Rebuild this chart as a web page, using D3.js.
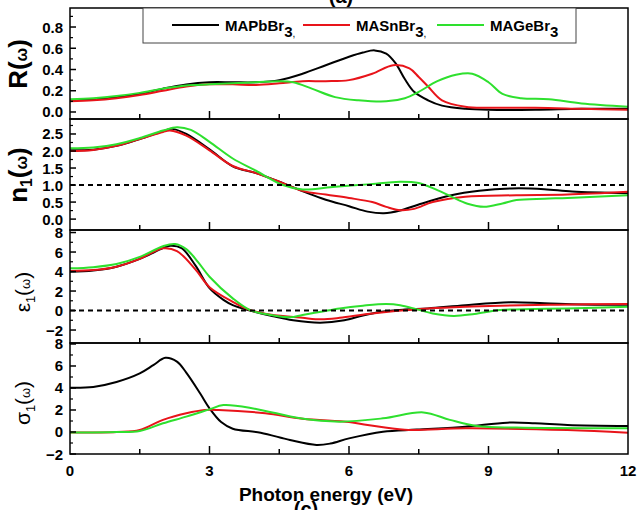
<!DOCTYPE html>
<html>
<head>
<meta charset="utf-8">
<script src="https://cdn.jsdelivr.net/npm/d3@7"></script>
<style>
  body { margin: 0; background: #fff; }
  text { font-family: Arial, "Liberation Sans", sans-serif; }
</style>
</head>
<body>
<svg id="chart" width="638" height="510"></svg>
<script>
// ---- data: [photon energy (eV), value] ----
const seriesNames = ["MAPbBr", "MASnBr", "MAGeBr"];
const seriesColors = ["#000000", "#e8141a", "#2ee02e"];

const rPb = [[0,0.11],[0.5,0.12],[1,0.14],[1.5,0.17],[2,0.22],[2.5,0.26],[3,0.28],[3.5,0.28],[4,0.28],[4.5,0.30],[5,0.36],[5.5,0.44],[6,0.52],[6.3,0.56],[6.55,0.58],[6.8,0.55],[7.0,0.46],[7.2,0.31],[7.4,0.19],[7.7,0.11],[8.0,0.06],[8.5,0.03],[9,0.02],[10,0.02],[11,0.03],[12,0.03]];
const rSn = [[0,0.10],[0.5,0.11],[1,0.13],[1.5,0.16],[2,0.20],[2.5,0.24],[3,0.26],[3.5,0.26],[4,0.255],[4.5,0.27],[5,0.29],[5.5,0.29],[6,0.30],[6.5,0.36],[6.95,0.44],[7.3,0.41],[7.5,0.33],[7.7,0.24],[8.0,0.11],[8.5,0.05],[9,0.04],[10,0.04],[11,0.03],[12,0.02]];
const rGe = [[0,0.12],[0.5,0.13],[1,0.15],[1.5,0.18],[2,0.22],[2.5,0.25],[3,0.26],[3.5,0.27],[4,0.28],[4.5,0.29],[4.8,0.28],[5.2,0.22],[5.7,0.14],[6.2,0.11],[6.8,0.10],[7.2,0.13],[7.5,0.19],[7.9,0.29],[8.3,0.35],[8.65,0.36],[9.0,0.28],[9.3,0.17],[9.7,0.13],[10.3,0.12],[11,0.08],[12,0.05]];

const nPb = [[0,2.02],[0.5,2.04],[1,2.15],[1.5,2.35],[2,2.58],[2.2,2.65],[2.5,2.5],[3,2.05],[3.5,1.55],[4,1.35],[4.5,1.1],[5,0.82],[5.5,0.57],[6,0.38],[6.4,0.22],[6.75,0.17],[7.1,0.25],[7.5,0.43],[8.2,0.70],[8.8,0.83],[9.5,0.90],[10.2,0.88],[10.8,0.81],[12,0.76]];
const nSn = [[0,2.0],[0.5,2.03],[1,2.15],[1.5,2.35],[2,2.56],[2.15,2.60],[2.5,2.45],[3,2.02],[3.5,1.56],[4,1.35],[4.5,1.1],[5,0.83],[5.5,0.72],[6,0.62],[6.5,0.5],[6.8,0.36],[7.1,0.26],[7.4,0.30],[7.8,0.50],[8.5,0.66],[9.6,0.70],[10.7,0.72],[12,0.80]];
const nGe = [[0,2.08],[0.5,2.1],[1,2.2],[1.5,2.38],[2,2.6],[2.3,2.70],[2.6,2.62],[3,2.27],[3.5,1.78],[4,1.42],[4.58,1.0],[5,0.87],[5.7,0.95],[6.4,1.02],[7.1,1.1],[7.5,1.06],[7.9,0.85],[8.2,0.66],[8.55,0.45],[8.9,0.36],[9.3,0.46],[9.6,0.56],[10.2,0.60],[10.7,0.62],[12,0.70]];

const ePb = [[0,3.98],[0.5,4.1],[1,4.5],[1.5,5.3],[2,6.4],[2.15,6.65],[2.4,6.4],[2.7,4.6],[3,2.3],[3.3,1.1],[3.5,0.56],[3.87,0.0],[4.3,-0.5],[4.8,-1.0],[5.38,-1.25],[5.9,-1.0],[6.3,-0.5],[6.7,-0.12],[7.2,0.1],[7.7,0.22],[8.5,0.55],[9.46,0.84],[10.2,0.75],[11,0.63],[12,0.6]];
const eSn = [[0,4.05],[0.5,4.15],[1,4.5],[1.5,5.3],[2,6.38],[2.3,6.1],[2.7,4.2],[3,2.4],[3.5,0.9],[3.87,0.05],[4.3,-0.4],[5,-0.75],[5.4,-0.9],[5.8,-0.75],[6.4,-0.36],[7,-0.05],[7.7,0.22],[8.5,0.4],[9.25,0.5],[10.5,0.6],[12,0.67]];
const eGe = [[0,4.33],[0.5,4.45],[1,4.77],[1.5,5.5],[2,6.6],[2.26,6.82],[2.5,6.3],[2.75,5.0],[3,3.47],[3.5,1.25],[3.87,0.05],[4.3,-0.45],[4.73,-0.7],[5.0,-0.45],[5.4,-0.12],[5.8,0.22],[6.3,0.5],[6.8,0.67],[7.1,0.55],[7.46,0.12],[7.8,-0.3],[8.25,-0.56],[8.7,-0.35],[9.25,0.05],[10,0.15],[10.7,0.22],[12,0.39]];

const sPb = [[0,4.03],[0.5,4.1],[1,4.55],[1.5,5.33],[1.8,6.1],[2.05,6.75],[2.3,6.4],[2.5,5.4],[2.8,3.5],[3,2.15],[3.25,0.9],[3.5,0.3],[4.1,-0.06],[4.73,-0.73],[5.3,-1.18],[5.6,-1.05],[6.0,-0.58],[6.73,0.03],[7.46,0.22],[8.5,0.48],[9.4,0.85],[10.0,0.8],[10.7,0.64],[12,0.55]];
const sSn = [[0,-0.05],[1,0.0],[1.5,0.18],[2,1.1],[2.5,1.7],[2.9,2.0],[3.2,2.0],[4.2,1.7],[5.0,1.2],[6.0,0.9],[6.4,0.64],[7.2,0.2],[8.5,0.33],[10.7,0.18],[12,-0.06]];
const sGe = [[0,-0.05],[1,0.0],[1.5,0.1],[2,0.79],[2.5,1.4],[3,2.06],[3.3,2.45],[4,2.1],[4.95,1.24],[5.8,0.94],[6.73,1.24],[7.6,1.78],[8.17,1.1],[8.75,0.55],[9.6,0.4],[12,0.33]];

const xTicks = [0, 3, 6, 9, 12];
const xMinor = [1.5, 4.5, 7.5, 10.5];
const rTicks = [0.0, 0.2, 0.4, 0.6, 0.8];
const nTicks = [0.0, 0.5, 1.0, 1.5, 2.0, 2.5];
const eTicks = [-2, 0, 2, 4, 6, 8];
const sTicks = [-2, 0, 2, 4, 6, 8];

const panels = [
  { series: [rPb, rSn, rGe], domain: [-0.066, 0.979], ticks: rTicks, minor: 0.1, fmt: d3.format(".1f"), top: 8, bottom: 119, ref: null },
  { series: [nPb, nSn, nGe], domain: [-0.32, 2.94], ticks: nTicks, minor: 0.25, fmt: d3.format(".1f"), top: 119, bottom: 230, ref: 1 },
  { series: [ePb, eSn, eGe], domain: [-3.33, 8.26], ticks: eTicks, minor: 1, fmt: d3.format("d"), top: 230, bottom: 343, ref: 0 },
  { series: [sPb, sSn, sGe], domain: [-2.0, 8.09], ticks: sTicks, minor: 1, fmt: d3.format("d"), top: 343, bottom: 454, ref: null }
];

const left = 70, right = 628;
const svg = d3.select("#chart");
const x = d3.scaleLinear().domain([0, 12]).range([left, right]);

panels.forEach((p, i) => {
  const y = d3.scaleLinear().domain(p.domain).range([p.bottom, p.top]);
  const g = svg.append("g");

  // curves
  const line = d3.line().x(d => x(d[0])).y(d => y(d[1])).curve(d3.curveCatmullRom.alpha(0.5));
  p.series.forEach((s, k) => {
    g.append("path").attr("d", line(s))
      .attr("fill", "none").attr("stroke", seriesColors[k]).attr("stroke-width", 2);
  });

  if (p.ref !== null) {
    g.append("line")
      .attr("x1", x(0)).attr("x2", x(12))
      .attr("y1", y(p.ref)).attr("y2", y(p.ref))
      .attr("stroke", "#000").attr("stroke-width", 2).attr("stroke-dasharray", "5,4");
  }

  // frame
  g.append("rect").attr("x", left).attr("y", p.top)
    .attr("width", right - left).attr("height", p.bottom - p.top)
    .attr("fill", "none").attr("stroke", "#000").attr("stroke-width", 1.5);

  // bottom ticks (inward)
  g.selectAll(".xt").data(xTicks.slice(1, -1)).join("line")
    .attr("x1", d => x(d)).attr("x2", d => x(d))
    .attr("y1", p.bottom).attr("y2", p.bottom - 8)
    .attr("stroke", "#000").attr("stroke-width", 1.5);
  g.selectAll(".xm").data(xMinor).join("line")
    .attr("x1", d => x(d)).attr("x2", d => x(d))
    .attr("y1", p.bottom).attr("y2", p.bottom - 5)
    .attr("stroke", "#000").attr("stroke-width", 1.5);

  // left ticks
  const minorVals = d3.range(p.ticks[0], p.domain[1], p.minor)
    .filter(v => v >= p.domain[0] && !p.ticks.some(t => Math.abs(t - v) < 1e-6));
  g.selectAll(".ym").data(minorVals).join("line")
    .attr("x1", left).attr("x2", left + 3)
    .attr("y1", d => y(d)).attr("y2", d => y(d))
    .attr("stroke", "#000").attr("stroke-width", 1.2);
  g.selectAll(".yt").data(p.ticks).join("line")
    .attr("x1", left).attr("x2", left + 6)
    .attr("y1", d => y(d)).attr("y2", d => y(d))
    .attr("stroke", "#000").attr("stroke-width", 1.5);
  g.selectAll(".yl").data(p.ticks).join("text")
    .attr("x", left - 7).attr("y", d => y(d) + 5.5)
    .attr("text-anchor", "end").attr("font-size", 15).attr("font-weight", "bold")
    .text(d => p.fmt(d));
});

// x tick labels
svg.selectAll(".xl").data(xTicks).join("text")
  .attr("x", d => x(d)).attr("y", 476)
  .attr("text-anchor", "middle").attr("font-size", 15).attr("font-weight", "bold")
  .text(d => d);

svg.append("text").attr("x", 326).attr("y", 501)
  .attr("text-anchor", "middle").attr("font-size", 19).attr("font-weight", "bold")
  .text("Photon energy (eV)");

// panel letters, cropped by the page edges as in the source figure
svg.append("text").attr("x", 341).attr("y", 3).attr("text-anchor", "middle")
  .attr("font-size", 20).attr("font-weight", "bold").text("(a)");
svg.append("text").attr("x", 306).attr("y", 516).attr("text-anchor", "middle")
  .attr("font-size", 20).attr("font-weight", "bold").text("(c)");

// y titles
function yTitle(cx, cy, sym, sub, bold, big) {
  const t = svg.append("text")
    .attr("transform", `translate(${cx},${cy}) rotate(-90)`)
    .attr("text-anchor", "middle")
    .attr("font-weight", bold ? "bold" : "normal");
  t.append("tspan").attr("font-size", big).text(sym);
  if (sub) t.append("tspan").attr("font-size", big * 0.6).attr("dy", 5).text(sub);
  t.append("tspan").attr("font-size", big).attr("dy", sub ? -5 : 0).text("(");
  t.append("tspan").attr("font-size", big * 0.62).text("ω");
  t.append("tspan").attr("font-size", big).text(")");
}
yTitle(27, 64, "R", null, true, 26);
yTitle(27, 175, "n", "1", true, 26);
yTitle(30, 292, "ε", "1", false, 21);
yTitle(30, 403, "σ", "1", false, 21);

// legend
const lg = svg.append("g");
lg.append("rect").attr("x", 143).attr("y", 8).attr("width", 433).attr("height", 35)
  .attr("fill", "#fff").attr("stroke", "#444").attr("stroke-width", 1);
const legX = [172, 303, 437];
seriesNames.forEach((name, k) => {
  lg.append("line").attr("x1", legX[k]).attr("x2", legX[k] + 47)
    .attr("y1", 25).attr("y2", 25)
    .attr("stroke", seriesColors[k]).attr("stroke-width", 2);
  const t = lg.append("text").attr("x", legX[k] + 53).attr("y", 31)
    .attr("font-size", 15).attr("font-weight", "bold");
  t.append("tspan").text(name);
  t.append("tspan").attr("dy", 6).attr("font-size", 15).text("3");
  if (k < 2) t.append("tspan").attr("font-size", 10).attr("font-weight", "normal").text(",");
});
</script>
</body>
</html>
